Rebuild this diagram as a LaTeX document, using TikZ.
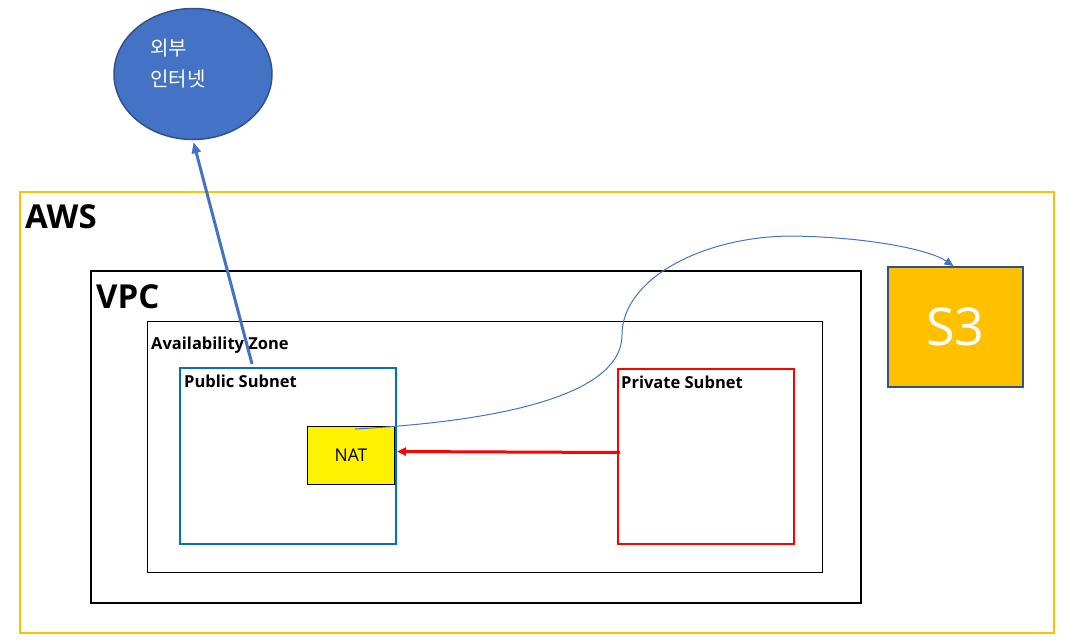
\documentclass[tikz,border=0pt]{standalone}
\usepackage{fontspec}
\setmainfont{Open Sans}
\newfontfamily\kofont{Noto Sans CJK KR}
\usetikzlibrary{arrows.meta, positioning, calc, shapes.geometric}
\definecolor{cOrange}{RGB}{255,192,0}
\definecolor{cBlue}{RGB}{68,114,196}
\definecolor{cDarkBlue}{RGB}{47,82,143}
\definecolor{cSubnet}{RGB}{0,112,192}
\tikzset{
	box/.style      ={rectangle, anchor=north west, inner sep=0pt},
	awsbox/.style   ={box, draw=cOrange, line width=1.6pt, minimum width=1034pt, minimum height=441pt},
	vpcbox/.style   ={box, draw=black, line width=2pt, minimum width=770pt, minimum height=332pt},
	azbox/.style    ={box, draw=black, line width=1pt, minimum width=675pt, minimum height=251pt},
	pubbox/.style   ={box, draw=cSubnet, line width=2pt, minimum width=216pt, minimum height=176pt},
	privbox/.style  ={box, draw=red, line width=2pt, minimum width=176pt, minimum height=175pt},
	natbox/.style   ={box, draw=black, line width=1pt, fill=yellow, minimum width=87pt, minimum height=58pt, font=\fontsize{17.5}{20}\selectfont},
	s3box/.style    ={box, draw=cDarkBlue, line width=2pt, fill=cOrange, minimum width=135pt, minimum height=120pt, text=white, font=\fontsize{52}{60}\selectfont},
	biglbl/.style   ={inner sep=0pt, font=\bfseries\fontsize{33}{40}\selectfont},
	lbl/.style      ={inner sep=0pt, font=\bfseries\fontsize{16.5}{19}\selectfont},
	inetarrow/.style={-{Triangle[length=11pt, width=9pt]}, draw=cBlue, line width=3pt},
	natarrow/.style ={-{Triangle[length=9pt, width=8pt]}, draw=red, line width=3pt},
	s3link/.style   ={-{Triangle[length=9pt, width=8pt]}, draw=cBlue, line width=1pt},
}
\begin{document}
\begin{tikzpicture}[x=1pt, y=-1pt]
	\useasboundingbox (0,0) rectangle (1076,641);
	% outer boxes
	\node[awsbox] (aws) at (19,191) {};
	\node[biglbl, below right=13pt and 6pt of aws.north west, anchor=north west] (awslbl) {AWS};
	\node[vpcbox] (vpc) at (90,270) {};
	\node[biglbl, below right=14pt and 6pt of vpc.north west, anchor=north west] (vpclbl) {VPC};
	\node[azbox] (az) at (147,321) {};
	\node[lbl, below right=16pt and 4pt of az.north west, anchor=north west] (azlbl) {Availability Zone};
	% subnets
	\node[pubbox] (pub) at (179,367) {};
	\node[lbl, below right=8pt and 5pt of pub.north west, anchor=north west] (publbl) {Public Subnet};
	\node[privbox] (priv) at (617,368) {};
	\node[lbl, below right=8pt and 4pt of priv.north west, anchor=north west] (privlbl) {Private Subnet};
	\node[natbox] (nat) at (307,426) {NAT};
	\node[s3box] (s3) at (887,266) {S3};
	% internet
	\node[ellipse, draw=cDarkBlue, line width=1.5pt, fill=cBlue, minimum width=158pt, minimum height=131pt] (inet) at (193,74) {};
	\node[anchor=north west, inner sep=0pt, text=white, align=left, font=\kofont\fontsize{20}{31}\selectfont] (inetlbl) at (150,39) {외부\\인터넷};
	% connectors
	\coordinate (pubtop) at (252,364);
	\coordinate (natsrc) at (355,429);
	\draw[inetarrow, shorten >=2pt] (pubtop) -- (inet.south);
	\draw[natarrow] ([yshift=4pt, xshift=3pt]priv.west) -- ([yshift=4pt, xshift=2pt]nat.east);
	\draw[s3link] (natsrc) .. controls (520,420) and (622,390) .. (622,335)
		.. controls (622,280) and (700,237) .. (790,236)
		.. controls (870,237) and (930,250) .. ([xshift=-2pt]s3.north);
\end{tikzpicture}
\end{document}
